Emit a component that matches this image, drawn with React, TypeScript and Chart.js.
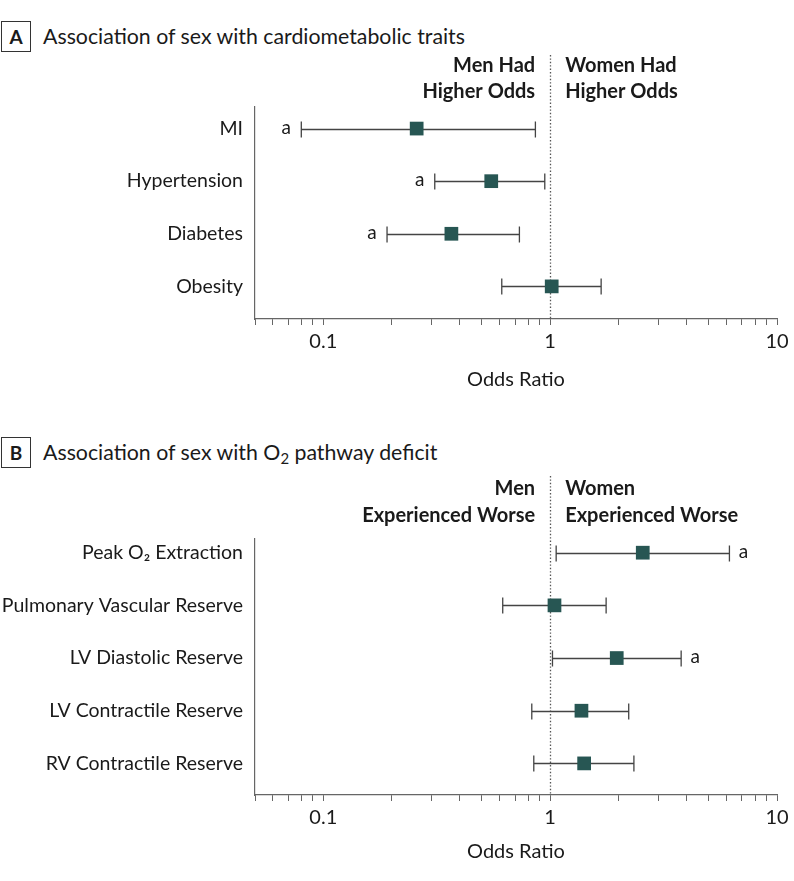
import React, { useEffect, useRef } from 'react';
import { Chart, registerables } from 'chart.js';

Chart.register(...registerables);

// ---------- data ----------
const catsA = ['MI', 'Hypertension', 'Diabetes', 'Obesity'];
const orA = [0.258, 0.55, 0.367, 1.016];
const lowA = [0.08, 0.31, 0.191, 0.612];
const highA = [0.861, 0.947, 0.732, 1.678];
const sigA = [true, true, true, false];

const catsB = [
  'Peak O\u2082 Extraction',
  'Pulmonary Vascular Reserve',
  'LV Diastolic Reserve',
  'LV Contractile Reserve',
  'RV Contractile Reserve',
];
const orB = [2.56, 1.045, 1.966, 1.374, 1.412];
const lowB = [1.063, 0.618, 1.024, 0.83, 0.847];
const highB = [6.17, 1.765, 3.78, 2.22, 2.34];
const sigB = [true, false, true, false, false];

const xTickValues = [
  0.05, 0.06, 0.07, 0.08, 0.09, 0.1, 0.2, 0.3, 0.4, 0.5, 0.6, 0.7, 0.8, 0.9,
  1, 2, 3, 4, 5, 6, 7, 8, 9, 10,
];
const xMajorValues = [0.1, 1, 10];
const xMajorLabels = ['0.1', '1', '10'];

const headerLeftA = ['Men Had', 'Higher Odds'];
const headerRightA = ['Women Had', 'Higher Odds'];
const headerLeftB = ['Men', 'Experienced Worse'];
const headerRightB = ['Women', 'Experienced Worse'];

// ---------- style ----------
const FONT = 'Lato, "Noto Sans", sans-serif';
const TEXT = '#1a1a1a';
const AXIS = '#666666';
const SQUARE = '#275653';
const BAR = '#444444';

type PanelProps = {
  top: number;
  height: number;
  padTop: number;
  padBottom: number;
  xHeight: number;
  yMin: number;
  yMax: number;
  cats: string[];
  or: number[];
  low: number[];
  high: number[];
  sig: boolean[];
  headLeft: string[];
  headRight: string[];
  headY: number[];
  dotTop: number;
};

function ForestPanel(p: PanelProps) {
  const ref = useRef<HTMLCanvasElement>(null);
  useEffect(() => {
    const canvas = ref.current!;
    const forestPlugin = {
      id: 'forest',
      beforeDatasetsDraw(chart: any) {
        const { ctx, chartArea, scales } = chart;
        const x = scales.x;
        const y = scales.y;
        const x1 = Math.round(x.getPixelForValue(1)) + 0.5;
        ctx.save();
        // reference line
        ctx.strokeStyle = '#555';
        ctx.lineWidth = 1.3;
        ctx.setLineDash([1.4, 2]);
        ctx.beginPath();
        ctx.moveTo(x1, p.dotTop);
        ctx.lineTo(x1, chartArea.bottom);
        ctx.stroke();
        ctx.setLineDash([]);
        // error bars
        ctx.strokeStyle = BAR;
        ctx.lineWidth = 1.3;
        p.cats.forEach((_, i) => {
          const yy = Math.round(y.getPixelForValue(i)) + 0.5;
          const xl = x.getPixelForValue(p.low[i]);
          const xh = x.getPixelForValue(p.high[i]);
          ctx.beginPath();
          ctx.moveTo(xl, yy);
          ctx.lineTo(xh, yy);
          ctx.moveTo(xl, yy - 8);
          ctx.lineTo(xl, yy + 8);
          ctx.moveTo(xh, yy - 8);
          ctx.lineTo(xh, yy + 8);
          ctx.stroke();
        });
        ctx.restore();
      },
      afterDatasetsDraw(chart: any) {
        const { ctx, scales } = chart;
        const x = scales.x;
        const y = scales.y;
        ctx.save();
        ctx.fillStyle = TEXT;
        ctx.font = `19px ${FONT}`;
        ctx.textBaseline = 'middle';
        ctx.textAlign = 'center';
        p.cats.forEach((_, i) => {
          if (!p.sig[i]) return;
          const yy = y.getPixelForValue(i);
          const xx = p.or[i] < 1 ? x.getPixelForValue(p.low[i]) - 15 : x.getPixelForValue(p.high[i]) + 14;
          ctx.fillText('a', xx, yy - 1);
        });
        // header labels
        const x1 = x.getPixelForValue(1);
        ctx.font = `bold 20px ${FONT}`;
        ctx.textAlign = 'right';
        p.headLeft.forEach((t, k) => ctx.fillText(t, x1 - 15, p.headY[k]));
        ctx.textAlign = 'left';
        p.headRight.forEach((t, k) => ctx.fillText(t, x1 + 15, p.headY[k]));
        ctx.restore();
      },
    };

    const chart = new Chart(canvas, {
      type: 'scatter',
      data: {
        datasets: [
          {
            data: p.or.map((v, i) => ({ x: v, y: i })),
            pointStyle: 'rect',
            pointRadius: 9.7,
            pointHoverRadius: 9.7,
            backgroundColor: SQUARE,
            borderWidth: 0,
          },
        ],
      },
      options: {
        animation: false,
        responsive: false,
        events: [],
        plugins: { legend: { display: false }, tooltip: { enabled: false } },
        layout: { padding: { top: p.padTop, right: 17, bottom: p.padBottom, left: 0 } },
        scales: {
          x: {
            type: 'logarithmic',
            bounds: 'data',
            min: 0.05,
            max: 10,
            afterBuildTicks: (s: any) => {
              s.ticks = xTickValues.map((v) => ({ value: v }));
            },
            afterFit: (s: any) => {
              s.height = p.xHeight;
            },
            ticks: {
              autoSkip: false,
              maxRotation: 0,
              padding: 5,
              color: TEXT,
              font: { family: FONT, size: 20 },
              callback: (v: any) => {
                const k = xMajorValues.findIndex((m) => Math.abs(m - Number(v)) < 1e-9);
                return k >= 0 ? xMajorLabels[k] : '';
              },
            },
            grid: {
              display: true,
              drawOnChartArea: false,
              drawTicks: true,
              tickLength: 6,
              color: AXIS,
              lineWidth: 1,
            },
            border: { display: true, color: AXIS, width: 1.2 },
            title: {
              display: true,
              text: 'Odds Ratio',
              color: TEXT,
              font: { family: FONT, size: 20 },
              padding: 0,
            },
          },
          y: {
            type: 'linear',
            bounds: 'data',
            reverse: true,
            min: p.yMin,
            max: p.yMax,
            afterBuildTicks: (s: any) => {
              s.ticks = p.cats.map((_, i) => ({ value: i }));
            },
            afterFit: (s: any) => {
              s.width = 255;
            },
            ticks: {
              autoSkip: false,
              padding: 4,
              color: TEXT,
              font: { family: FONT, size: 19.5 },
              callback: (v: any) => p.cats[Number(v)] ?? '',
            },
            grid: { display: false },
            border: { display: true, color: AXIS, width: 1.2 },
          },
        },
      } as any,
      plugins: [forestPlugin],
    });
    return () => chart.destroy();
  }, []);
  return (
    <canvas
      ref={ref}
      width={794}
      height={p.height}
      style={{ position: 'absolute', left: 0, top: p.top, width: 794, height: p.height }}
    />
  );
}

function PanelTitle({ letter, top, children }: { letter: string; top: number; children: any }) {
  return (
    <>
      <div
        style={{
          position: 'absolute',
          left: 1,
          top,
          width: 30,
          height: 31,
          boxSizing: 'border-box',
          border: '1px solid #333',
          font: `bold 19px ${FONT}`,
          color: TEXT,
          textAlign: 'center',
          lineHeight: '29px',
        }}
      >
        {letter}
      </div>
      <div
        style={{
          position: 'absolute',
          left: 43,
          top: top + 2,
          height: 26,
          font: `21.3px ${FONT}`,
          lineHeight: '26px',
          color: TEXT,
          whiteSpace: 'nowrap',
        }}
      >
        {children}
      </div>
    </>
  );
}

export default function App() {
  return (
    <div style={{ position: 'absolute', left: 0, top: 0, width: 794, height: 881, background: '#fff', overflow: 'hidden' }}>
      <PanelTitle letter="A" top={21}>
        Association of sex with cardiometabolic traits
      </PanelTitle>
      <ForestPanel
        top={50}
        height={350}
        padTop={57}
        padBottom={8}
        xHeight={73}
        yMin={-0.41}
        yMax={3.62}
        cats={catsA}
        or={orA}
        low={lowA}
        high={highA}
        sig={sigA}
        headLeft={headerLeftA}
        headRight={headerRightA}
        headY={[16, 42]}
        dotTop={5}
      />
      <PanelTitle letter="B" top={437}>
        <span>
          Association of sex with O<sub style={{ fontSize: '70%', verticalAlign: '-4px', lineHeight: 0 }}>2</sub> pathway deficit
        </span>
      </PanelTitle>
      <ForestPanel
        top={470}
        height={411}
        padTop={69}
        padBottom={17}
        xHeight={69}
        yMin={-0.26}
        yMax={4.6}
        cats={catsB}
        or={orB}
        low={lowB}
        high={highB}
        sig={sigB}
        headLeft={headerLeftB}
        headRight={headerRightB}
        headY={[19, 46]}
        dotTop={6}
      />
    </div>
  );
}
